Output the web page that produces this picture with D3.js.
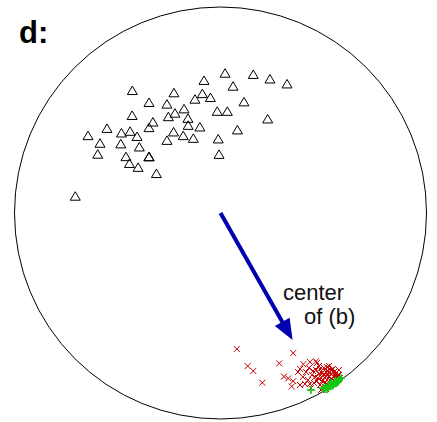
<!DOCTYPE html>
<html>
<head>
<meta charset="utf-8">
<script src="https://cdn.jsdelivr.net/npm/d3@7"></script>
<style>
  html, body { margin: 0; padding: 0; background: #fff; }
  svg { display: block; }
</style>
</head>
<body>
<svg id="chart" width="437" height="422"></svg>
<script>
// ---- data (projected coordinates, unit circle radius = 100) ----
const panelLabel = "d:";
const arrowLabel = ["center", "of (b)"];

// triangles: [x, y]
const triX = [2.2, 15.9, 24.0, 32.3, -8.0, 6.1, -42.8, -22.6, -8.8, -12.4, -4.9, 11.4, -34.7, -26.0, -17.7, -22.1,
  -1.6, 3.3, -42.9, -25.3, -15.8, 22.9, -32.8, -15.7, -10.0, -34.7, -55.1, 8.2, -43.9, -48.1, -64.3, -40.5,
  -22.8, -18.1, -13.2, -26.0, -1.1, -58.5, -48.4, -39.4, -59.6, -45.9, -34.8, -34.6, -0.7, -44.2, -40.0, -31.1, -70.5];
const triY = [67.8, 67.2, 65.0, 62.6, 64.3, 61.5, 59.4, 58.3, 57.9, 55.2, 56.0, 53.9, 53.6, 52.8, 50.5, 48.4,
  49.3, 49.3, 47.3, 46.7, 45.9, 45.6, 44.1, 42.5, 41.7, 41.4, 41.0, 40.3, 39.6, 38.8, 37.5, 37.1,
  39.3, 37.5, 36.2, 35.2, 35.9, 33.8, 33.5, 32.0, 28.5, 27.3, 27.2, 27.3, 28.4, 24.0, 22.1, 19.1, 8.1];

// crosses (red)
const crossX = [7.9, 35.3, 28.5, 13.2, 15.9, 20.3, 46.4, 40.2, 38.6, 30.8, 32.9, 35.3, 34.6,
  41.5, 43.0, 44.4, 42.5, 45.4, 43.9, 46.4, 47.8, 47.3, 48.3, 49.3, 50.2, 49.8, 51.2, 51.7, 52.2, 52.7,
  53.2, 53.6, 54.1, 54.6, 55.1, 55.6, 56.1, 56.6, 57.0, 57.5, 58.0, 51.2, 53.2, 48.8, 46.8, 44.9, 50.7,
  52.7, 54.1, 56.1, 55.6, 53.6, 51.7, 50.2, 47.8, 45.9, 43.4, 54.6, 56.6, 52.2, 49.3, 51.2, 56.1, 57.5,
  49.8, 48.3, 40.0, 37.6, 41.0, 38.6, 46.8, 43.4, 55.1, 51.7];
const crossY = [-66.0, -68.0, -73.0, -74.3, -76.7, -82.4, -72.0, -73.4, -75.7, -79.4, -80.3, -81.6, -84.2,
  -77.2, -75.2, -78.6, -81.1, -82.5, -85.0, -76.2, -74.3, -80.1, -83.5, -77.7, -75.2, -81.1, -79.1, -83.5, -76.7, -74.3,
  -81.1, -78.2, -82.5, -75.7, -79.6, -82.0, -77.7, -80.6, -78.6, -76.2, -80.1, -85.4, -84.0, -85.9, -81.6, -76.7, -82.5,
  -79.6, -80.6, -81.1, -78.6, -76.2, -81.1, -84.0, -78.2, -79.6, -83.0, -83.0, -79.1, -78.6, -81.6, -77.2, -79.6, -78.6,
  -79.1, -75.7, -79.6, -77.2, -83.0, -83.5, -72.8, -72.3, -77.2, -74.8];

// plus signs (green)
const plusX = [43.9, 50.7, 52.2, 53.6, 55.1, 56.6, 57.5, 58.5, 52.7, 54.6, 56.1, 49.8, 51.7, 53.6, 55.6, 57.0];
const plusY = [-85.9, -85.4, -84.5, -84.0, -83.0, -82.0, -81.1, -80.1, -83.5, -83.7, -82.7, -85.0, -85.6, -82.5, -81.6, -82.0];

// arrow: from center to the center of (b)
const arrowFrom = [0, 0];
const arrowTo = [35.0, -61.7];

// ---- layout ----
const cx = 220.5, cy = 213, R = 206;
const x = d3.scaleLinear().domain([-100, 100]).range([cx - R, cx + R]);
const y = d3.scaleLinear().domain([-100, 100]).range([cy + R, cy - R]);

const svg = d3.select("#chart");

// primitive circle
svg.append("circle")
  .attr("cx", x(0)).attr("cy", y(0))
  .attr("r", x(100) - x(0))
  .attr("fill", "none").attr("stroke", "#000").attr("stroke-width", 1);

// triangles
const triPts = triX.map((v, i) => [v, triY[i]]);
svg.append("g").selectAll("path").data(triPts).join("path")
  .attr("transform", d => `translate(${x(d[0])},${y(d[1])})`)
  .attr("d", "M0,-4.6L5,3.9L-5,3.9Z")
  .attr("fill", "none").attr("stroke", "#000").attr("stroke-width", 1);

// crosses
const crossPts = crossX.map((v, i) => [v, crossY[i]]);
svg.append("g").selectAll("path").data(crossPts).join("path")
  .attr("transform", d => `translate(${x(d[0])},${y(d[1])})`)
  .attr("d", "M-3,-3L3,3M-3,3L3,-3")
  .attr("fill", "none").attr("stroke", "#c80000").attr("stroke-width", 1);

// plus signs
const plusPts = plusX.map((v, i) => [v, plusY[i]]);
svg.append("g").selectAll("path").data(plusPts).join("path")
  .attr("transform", d => `translate(${x(d[0])},${y(d[1])})`)
  .attr("d", "M-4,0L4,0M0,-4L0,4")
  .attr("fill", "none").attr("stroke", "#10c810").attr("stroke-width", 1.6);

// arrow
const x0 = x(arrowFrom[0]), y0 = y(arrowFrom[1]);
const x1 = x(arrowTo[0]), y1 = y(arrowTo[1]);
const L = Math.hypot(x1 - x0, y1 - y0);
const ux = (x1 - x0) / L, uy = (y1 - y0) / L;
const headLen = 21, headHalf = 8.5;
const bx = x1 - ux * headLen, by = y1 - uy * headLen;
const arrowColor = "#0000b0";
svg.append("line")
  .attr("x1", x0).attr("y1", y0)
  .attr("x2", bx + ux * 2).attr("y2", by + uy * 2)
  .attr("stroke", arrowColor).attr("stroke-width", 4);
svg.append("path")
  .attr("d", `M${x1},${y1}L${bx - uy * headHalf},${by + ux * headHalf}L${bx + uy * headHalf},${by - ux * headHalf}Z`)
  .attr("fill", arrowColor);

// labels
svg.append("text")
  .attr("x", 19).attr("y", 43)
  .attr("font-family", "Liberation Sans, Arial, sans-serif")
  .attr("font-weight", "bold").attr("font-size", 31)
  .text(panelLabel);

svg.append("text")
  .attr("font-family", "Liberation Sans, Arial, sans-serif")
  .attr("font-size", 22).attr("fill", "#111")
  .selectAll("tspan").data(arrowLabel).join("tspan")
  .attr("x", (d, i) => i === 0 ? 283 : 304)
  .attr("y", (d, i) => i === 0 ? 300 : 324)
  .text(d => d);
</script>
</body>
</html>
